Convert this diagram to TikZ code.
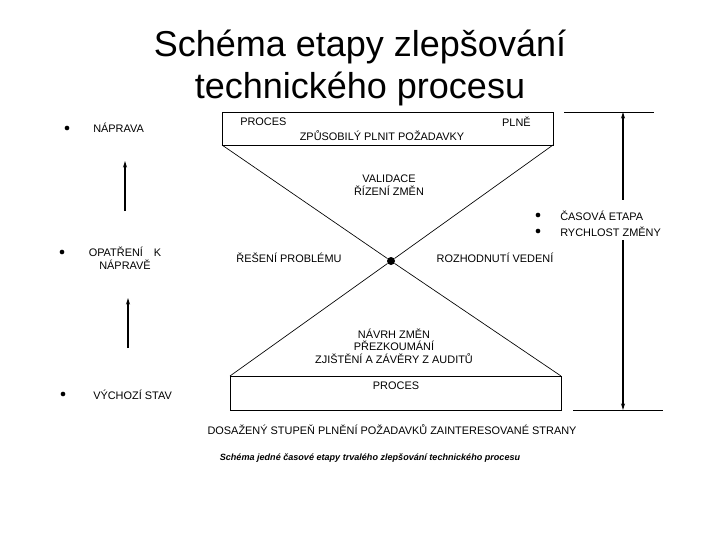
\documentclass[tikz,border=0pt]{standalone}
\usepackage{fontspec}
\setmainfont{Liberation Sans}
\usetikzlibrary{arrows.meta}
\begin{document}
\begin{tikzpicture}[x=0.75pt,y=-0.75pt,
  lbl/.style={font=\fontsize{8.2}{9.5}\selectfont,inner sep=0pt,align=center},
  bul/.style={circle,fill=black,inner sep=0pt,minimum size=3.5pt},
  ln/.style={line width=0.5pt},
  arr/.style={line width=0.9pt,-{Stealth[length=5pt,width=3pt]}}]
\useasboundingbox (0,0) rectangle (720,540);
\node (title) at (360,68) [font=\fontsize{27}{32}\selectfont,align=center] {Schéma etapy zlepšování\\technického procesu};
% boxes
\draw[ln] (222,112) rectangle (553,145);
\coordinate (tl) at (222,145); \coordinate (tr) at (553,145);
\draw[ln] (230,376) rectangle (561,410);
\coordinate (bl) at (230,376); \coordinate (br) at (561,376);
\node[circle,fill=black,inner sep=0pt,minimum size=6pt] (c) at (391,261) {};
\draw[ln] (tl) -- (c) -- (br);
\draw[ln] (tr) -- (c) -- (bl);
\node[lbl,anchor=west] (p1) at (240,122) {PROCES};
\node[lbl,anchor=east] (p2) at (531,122) {PLNĚ};
\node[lbl] (p3) at (382,136) {ZPŮSOBILÝ PLNIT POŽADAVKY};
\node[lbl] (v) at (389,185) {VALIDACE\\ŘÍZENÍ ZMĚN};
\node[lbl] (r1) at (289,258) {ŘEŠENÍ PROBLÉMU};
\node[lbl] (r2) at (495,258) {ROZHODNUTÍ VEDENÍ};
\node[lbl] (n) at (394,346) {NÁVRH ZMĚN\\PŘEZKOUMÁNÍ\\ZJIŠTĚNÍ A ZÁVĚRY Z AUDITŮ};
\node[lbl] (p4) at (396,386) {PROCES};
% left column
\node[bul] (b1) at (67,128) {};
\node[lbl,anchor=west] (l1) at (93,128) {NÁPRAVA};
\node[bul] (b2) at (62,252) {};
\node[lbl] (l2) at (125,258) {OPATŘENÍ\quad K\\NÁPRAVĚ};
\node[bul] (b3) at (63,394) {};
\node[lbl,anchor=west] (l3) at (93,395) {VÝCHOZÍ STAV};
\coordinate (a1s) at (125,211); \coordinate (a1e) at (125,161);
\coordinate (a2s) at (128,348); \coordinate (a2e) at (128,298);
\draw[arr] (a1s) -- (a1e);
\draw[arr] (a2s) -- (a2e);
% right
\coordinate (h1a) at (564,112); \coordinate (h1b) at (654,112);
\coordinate (h2a) at (573,410); \coordinate (h2b) at (663,410);
\draw[ln] (h1a) -- (h1b); \draw[ln] (h2a) -- (h2b);
\coordinate (vt) at (623,112); \coordinate (vb) at (623,410);
\coordinate (vm1) at (623,200); \coordinate (vm2) at (623,240);
\draw[line width=0.8pt,{Stealth[length=5pt,width=3pt]}-] (vt) -- (vm1);
\draw[line width=0.8pt,-{Stealth[length=5pt,width=3pt]}] (vm2) -- (vb);
\node[bul] (b4) at (538,215) {};
\node[lbl,anchor=west] (t1) at (560,216) {ČASOVÁ ETAPA};
\node[bul] (b5) at (538,231) {};
\node[lbl,anchor=west] (t2) at (560,232) {RYCHLOST ZMĚNY};
\node[lbl] (d) at (392,430) {DOSAŽENÝ STUPEŇ PLNĚNÍ POŽADAVKŮ ZAINTERESOVANÉ STRANY};
\node[lbl,font=\fontsize{6.8}{8}\selectfont\bfseries\itshape] (cap) at (370,458) {Schéma jedné časové etapy trvalého zlepšování technického procesu};
\end{tikzpicture}
\end{document}
